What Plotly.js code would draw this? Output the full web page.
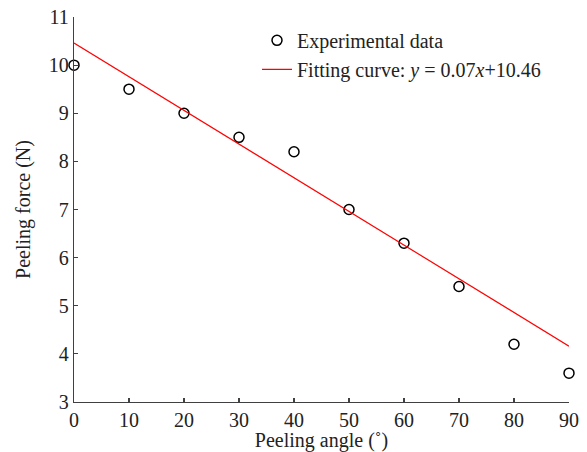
<!DOCTYPE html>
<html>
<head>
<meta charset="utf-8">
<script src="https://cdn.plot.ly/plotly-3.0.1.min.js"></script>
<style>html,body{margin:0;padding:0;background:#fff;}#chart{width:587px;height:452px;}</style>
</head>
<body>
<div id="chart"></div>
<script>
const angles = [0, 10, 20, 30, 40, 50, 60, 70, 80, 90];
const forces = [10.0, 9.5, 9.0, 8.5, 8.2, 7.0, 6.3, 5.4, 4.2, 3.6];
const fitX = [0, 90];
const fitY = [10.46, 4.16];
const xTicks = [0, 10, 20, 30, 40, 50, 60, 70, 80, 90];
const yTicks = [3, 4, 5, 6, 7, 8, 9, 10, 11];

const font = {family: '"Liberation Serif", "Times New Roman", serif', size: 20, color: '#222'};

const traces = [
  {x: angles, y: forces, type: 'scatter', mode: 'markers', name: 'Experimental data',
   marker: {symbol: 'circle-open', size: 10, color: '#000', line: {width: 1.5, color: '#000'}},
   cliponaxis: false},
  {x: fitX, y: fitY, type: 'scatter', mode: 'lines', name: 'Fitting curve: <i>y</i> = 0.07<i>x</i>+10.46',
   line: {color: '#ff0000', width: 1.2}, cliponaxis: false}
];

const layout = {
  width: 587, height: 452,
  margin: {l: 74, r: 18, t: 16.5, b: 50},
  paper_bgcolor: '#fff', plot_bgcolor: '#fff',
  font: font,
  showlegend: true,
  legend: {x: 0.3697, y: 0.99, xanchor: 'left', yanchor: 'top', bgcolor: 'rgba(0,0,0,0)',
           font: font, tracegroupgap: 0, itemwidth: 30},
  xaxis: {range: [0, 90], tickvals: xTicks, ticks: 'inside', ticklen: 4, tickwidth: 1.2,
          tickcolor: '#404040', showline: true, linecolor: '#404040', linewidth: 1.2,
          showgrid: false, zeroline: false, mirror: false,
          title: {text: 'Peeling angle (˚)', font: font, standoff: 1}, tickfont: font},
  yaxis: {range: [3, 11], tickvals: yTicks, ticks: 'inside', ticklen: 4, tickwidth: 1.2,
          tickcolor: '#404040', showline: true, linecolor: '#404040', linewidth: 1.2,
          showgrid: false, zeroline: false, mirror: false,
          title: {text: 'Peeling force (N)', font: font, standoff: 12}, tickfont: font}
};

Plotly.newPlot('chart', traces, layout, {displayModeBar: false, staticPlot: true});
</script>
</body>
</html>
